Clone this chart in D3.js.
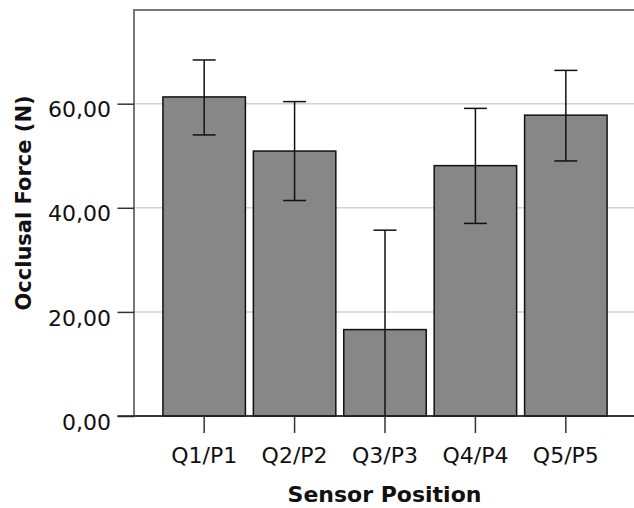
<!DOCTYPE html>
<html>
<head>
<meta charset="utf-8">
<script src="https://cdn.jsdelivr.net/npm/d3@7"></script>
<style>
  body { margin: 0; background: #fff; overflow: hidden; }
  text { font-family: "DejaVu Sans", Verdana, sans-serif; }
</style>
</head>
<body>
<div class="container"></div>
<script>
const positions = ["Q1/P1", "Q2/P2", "Q3/P3", "Q4/P4", "Q5/P5"];
const means = [61.3, 50.9, 16.6, 48.1, 57.8];
const upper = [68.4, 60.4, 35.7, 59.1, 66.4];
const lower = [54.0, 41.4, -2.5, 37.0, 49.0];
const yTicks = [0, 20, 40, 60];

const margin = { top: 10, right: -2, bottom: 92, left: 134 };
const width = 634;
const height = 508;
const innerWidth = width - (margin.left + margin.right);
const innerHeight = height - (margin.top + margin.bottom);

let svg = d3.select(".container").append("svg")
  .attr("width", width).attr("height", height)
  .style("display", "block");

let g = svg.append("g")
  .attr("transform", `translate(${margin.left}, ${margin.top})`);

// Scales
let xScale = d3.scaleBand(positions, [0, innerWidth])
  .paddingInner(0.088)
  .paddingOuter(0.32);

let yScale = d3.scaleLinear([0, 78], [innerHeight, 0]);

svg.append("clipPath").attr("id", "plot-clip")
  .append("rect").attr("width", innerWidth).attr("height", innerHeight);

// gridlines
g.selectAll(".grid")
  .data(yTicks.filter(d => d > 0)).enter().append("line")
  .attr("x1", 0).attr("x2", innerWidth)
  .attr("y1", d => yScale(d)).attr("y2", d => yScale(d))
  .attr("stroke", "#d2d2d2").attr("stroke-width", 1.5);

// frame
g.append("rect")
  .attr("width", innerWidth).attr("height", innerHeight)
  .attr("fill", "none").attr("stroke", "#777").attr("stroke-width", 2);

// bars
g.selectAll(".bar")
  .data(positions).enter().append("rect")
  .attr("x", d => xScale(d))
  .attr("y", (d, i) => yScale(means[i]))
  .attr("width", xScale.bandwidth())
  .attr("height", (d, i) => yScale(0) - yScale(means[i]))
  .attr("fill", "#878787")
  .attr("stroke", "#111")
  .attr("stroke-width", 1.5);

// error bars (clipped, Q3 lower whisker runs below zero)
let cap = 11.5;
let errs = g.append("g").attr("clip-path", "url(#plot-clip)")
  .attr("stroke", "#111").attr("stroke-width", 1.5);

positions.forEach((p, i) => {
  let cx = xScale(p) + xScale.bandwidth() / 2;
  errs.append("line")
    .attr("x1", cx).attr("x2", cx)
    .attr("y1", yScale(upper[i])).attr("y2", yScale(lower[i]));
  [upper[i], lower[i]].forEach(v => {
    errs.append("line")
      .attr("x1", cx - cap).attr("x2", cx + cap)
      .attr("y1", yScale(v)).attr("y2", yScale(v));
  });
});

// Axes
let yAxis = d3.axisLeft(yScale)
  .tickValues(yTicks)
  .tickSize(16.5)
  .tickPadding(6.5)
  .tickFormat(d => d3.format(".2f")(d).replace(".", ","));

let xAxis = d3.axisBottom(xScale)
  .tickSize(17)
  .tickPadding(14.5);

let gy = g.append("g").call(yAxis);
gy.select(".domain").remove();
gy.selectAll(".tick line").attr("stroke", "#333").attr("stroke-width", 1.5);
gy.selectAll(".tick text")
  .attr("font-size", 22).attr("fill", "#111")
  .attr("dy", "0.6em")
  .style("font-family", "DejaVu Sans");

let gx = g.append("g").attr("transform", `translate(0, ${innerHeight})`).call(xAxis);
gx.select(".domain").attr("stroke", "#222").attr("stroke-width", 1.5)
  .attr("d", `M-16.5,0H${innerWidth}`);
gx.selectAll(".tick line").attr("stroke", "#333").attr("stroke-width", 1.5);
gx.selectAll(".tick text")
  .attr("font-size", 22).attr("fill", "#111")
  .style("font-family", "DejaVu Sans");

// titles
svg.append("text")
  .attr("x", 384.5).attr("y", 501.5)
  .attr("text-anchor", "middle")
  .attr("font-size", 22).attr("font-weight", "bold").attr("fill", "#111")
  .text("Sensor Position");

svg.append("text")
  .attr("transform", "translate(31, 203) rotate(-90)")
  .attr("text-anchor", "middle")
  .attr("font-size", 21).attr("font-weight", "bold").attr("fill", "#111")
  .text("Occlusal Force (N)");
</script>
</body>
</html>
